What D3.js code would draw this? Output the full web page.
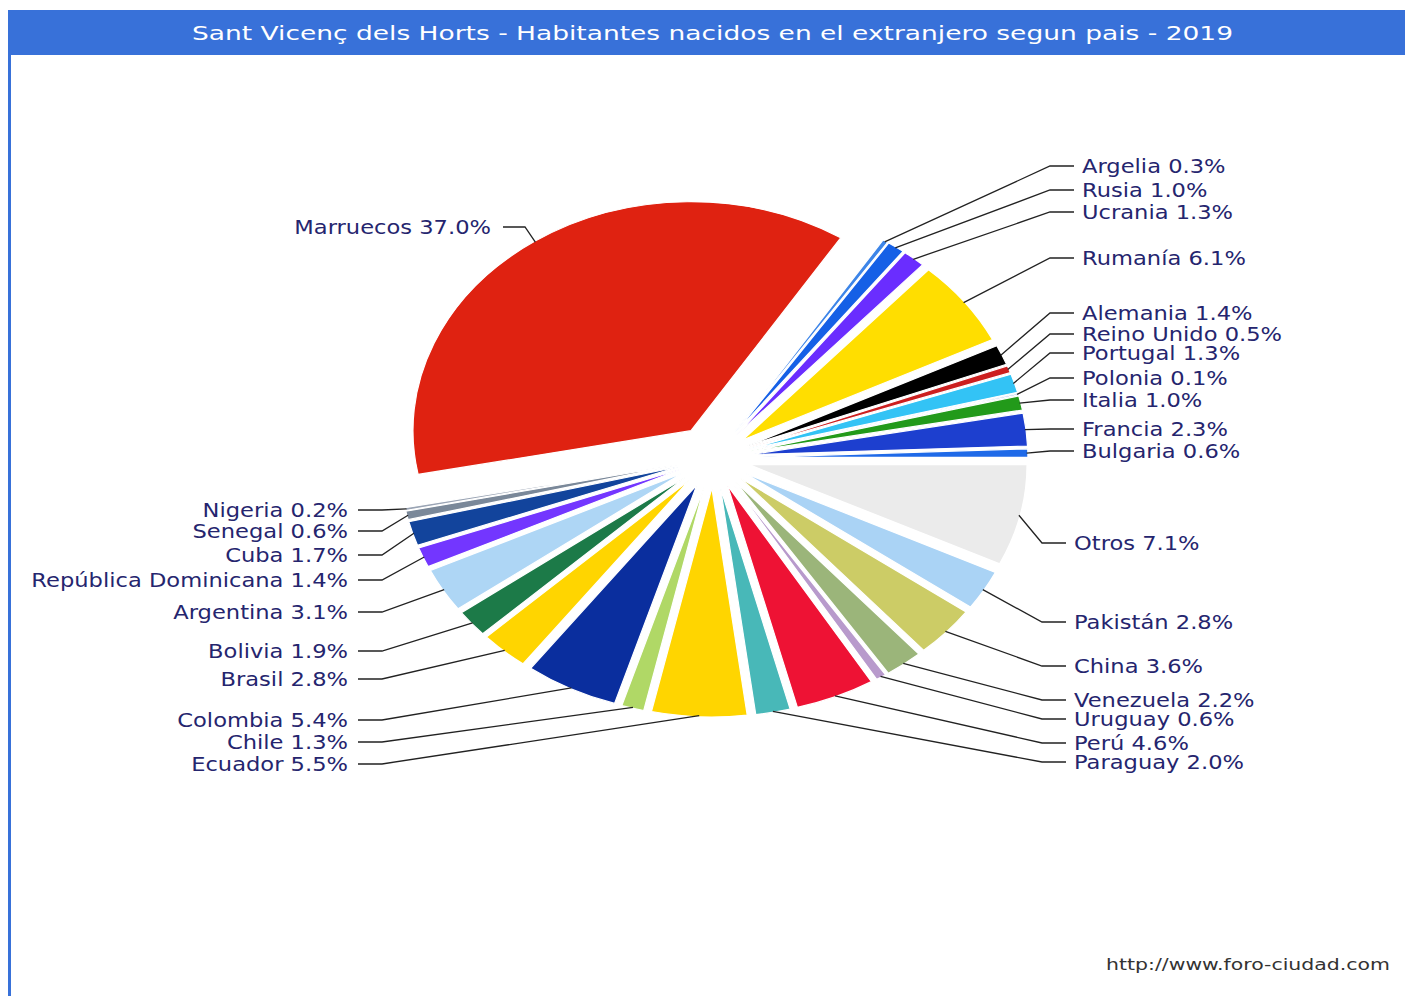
<!DOCTYPE html>
<html>
<head>
<meta charset="utf-8">
<script src="https://cdn.jsdelivr.net/npm/d3@7"></script>
<style>
    body { margin: 0; background: #fff; }
    .label-text { font-family: "DejaVu Sans", Verdana, sans-serif; font-size: 20px; fill: #25256e; }
</style>
</head>
<body>
<div id="chart"></div>
<script>
// countries in clockwise order, starting with Marruecos
const countries = ["Marruecos", "Argelia", "Rusia", "Ucrania", "Rumanía", "Alemania", "Reino Unido",
    "Portugal", "Polonia", "Italia", "Francia", "Bulgaria", "Otros", "Pakistán", "China", "Venezuela",
    "Uruguay", "Perú", "Paraguay", "Ecuador", "Chile", "Colombia", "Brasil", "Bolivia", "Argentina",
    "República Dominicana", "Cuba", "Senegal", "Nigeria"];
const shares = [37.0, 0.3, 1.0, 1.3, 6.1, 1.4, 0.5, 1.3, 0.1, 1.0, 2.3, 0.6, 7.1, 2.8, 3.6, 2.2,
    0.6, 4.6, 2.0, 5.5, 1.3, 5.4, 2.8, 1.9, 3.1, 1.4, 1.7, 0.6, 0.2];
const colors = ["#df2211", "#3d85e8", "#1560e6", "#6a2dff", "#ffde00", "#000000", "#cc1f1f",
    "#33c3f5", "#3a70d0", "#229a1a", "#1d3fcf", "#1f6ae8", "#ebebeb", "#aad3f5", "#cccc66", "#9bb57a",
    "#b89acc", "#ee1234", "#48b8b8", "#ffd500", "#b0d866", "#0a2e9e", "#ffd500", "#1c7a48", "#aed6f5",
    "#7336ff", "#12449c", "#7a8899", "#9aa4b4"];

// label layout (vertical position of each label, same order)
const labelY = [227, 166, 190, 212, 258, 313, 334, 353, 378, 400, 429, 451, 543, 622, 666, 700,
    719, 743, 762, 764, 742, 720, 679, 651, 612, 580, 555, 531, 510];

const width = 1405;
const height = 996;
const cx = 713.5, cy = 458;
const sx = 1.214;          // horizontal stretch of the pie
const radius = 229;
const explode = 30;
const explodeMain = 33;
const textScale = 1.13;

const svg = d3.select("#chart")
    .append("svg")
    .attr("width", width)
    .attr("height", height);

// frame + title bar
svg.append("rect")
    .attr("x", 8).attr("y", 55)
    .attr("width", 3).attr("height", height - 55)
    .attr("fill", "#3871d9");

svg.append("rect")
    .attr("x", 8).attr("y", 10)
    .attr("width", width - 8).attr("height", 45)
    .attr("fill", "#3871d9");

svg.append("text")
    .attr("x", 192)
    .attr("y", 33)
    .attr("dy", "0.35em")
    .attr("textLength", 1041)
    .attr("lengthAdjust", "spacingAndGlyphs")
    .style("font-family", "DejaVu Sans, sans-serif")
    .style("font-size", "20px")
    .style("fill", "#ffffff")
    .text("Sant Vicenç dels Horts - Habitantes nacidos en el extranjero segun pais - 2019");

const total = d3.sum(shares);
// Bulgaria (index 11) ends exactly at 3 o'clock
const before = d3.sum(shares.slice(0, 12));
const start = Math.PI / 2 - before / total * 2 * Math.PI;

const pie = d3.pie()
    .sort(null)
    .value(d => d)
    .startAngle(start)
    .endAngle(start + 2 * Math.PI);

const arc = d3.arc()
    .innerRadius(0)
    .outerRadius(radius);

const arcs = pie(shares);
const offsetOf = i => i === 0 ? explodeMain : explode;
const midOf = d => (d.startAngle + d.endAngle) / 2;

const g = svg.append("g")
    .attr("transform", `translate(${cx}, ${cy}) scale(${sx}, 1)`);

g.selectAll(".slice")
    .data(arcs)
    .enter()
    .append("path")
    .attr("class", "slice")
    .attr("transform", (d, i) => {
        const a = midOf(d), o = offsetOf(i);
        return `translate(${o * Math.sin(a)}, ${-o * Math.cos(a)})`;
    })
    .attr("d", arc)
    .attr("fill", (d, i) => colors[i])
    .attr("stroke", "#fff")
    .attr("stroke-width", 1.2)
    .attr("vector-effect", "non-scaling-stroke");

// leader lines + labels
function side(i) {
    if (i === 0) return "main";
    if (i <= 11) return "rightTop";
    if (i <= 18) return "rightLow";
    return "left";
}

const layout = {
    main:     { bend: 525, end: 503, textX: 491, anchor: "end" },
    rightTop: { bend: 1050, end: 1074, textX: 1082, anchor: "start" },
    rightLow: { bend: 1042, end: 1066, textX: 1074, anchor: "start" },
    left:     { bend: 382, end: 358, textX: 348, anchor: "end" }
};

const line = d3.line();

arcs.forEach((d, i) => {
    const a = midOf(d);
    const r = radius + offsetOf(i) - 1;
    const tx = cx + sx * r * Math.sin(a);
    const ty = cy - r * Math.cos(a);
    const L = layout[side(i)];
    const y = labelY[i];

    svg.append("path")
        .attr("d", line([[tx, ty], [L.bend, y], [L.end, y]]))
        .attr("fill", "none")
        .attr("stroke", "#222")
        .attr("stroke-width", 1.3);

    svg.append("text")
        .attr("class", "label-text")
        .attr("transform", `translate(${L.textX}, ${y}) scale(${textScale}, 1)`)
        .attr("dy", "0.35em")
        .attr("text-anchor", L.anchor)
        .text(`${countries[i]} ${shares[i].toFixed(1)}%`);
});

svg.append("text")
    .attr("x", 1106)
    .attr("y", 965)
    .attr("dy", "0.35em")
    .attr("textLength", 284)
    .attr("lengthAdjust", "spacingAndGlyphs")
    .style("font-family", "DejaVu Sans, sans-serif")
    .style("font-size", "15px")
    .style("fill", "#333")
    .text("http://www.foro-ciudad.com");
</script>
</body>
</html>
